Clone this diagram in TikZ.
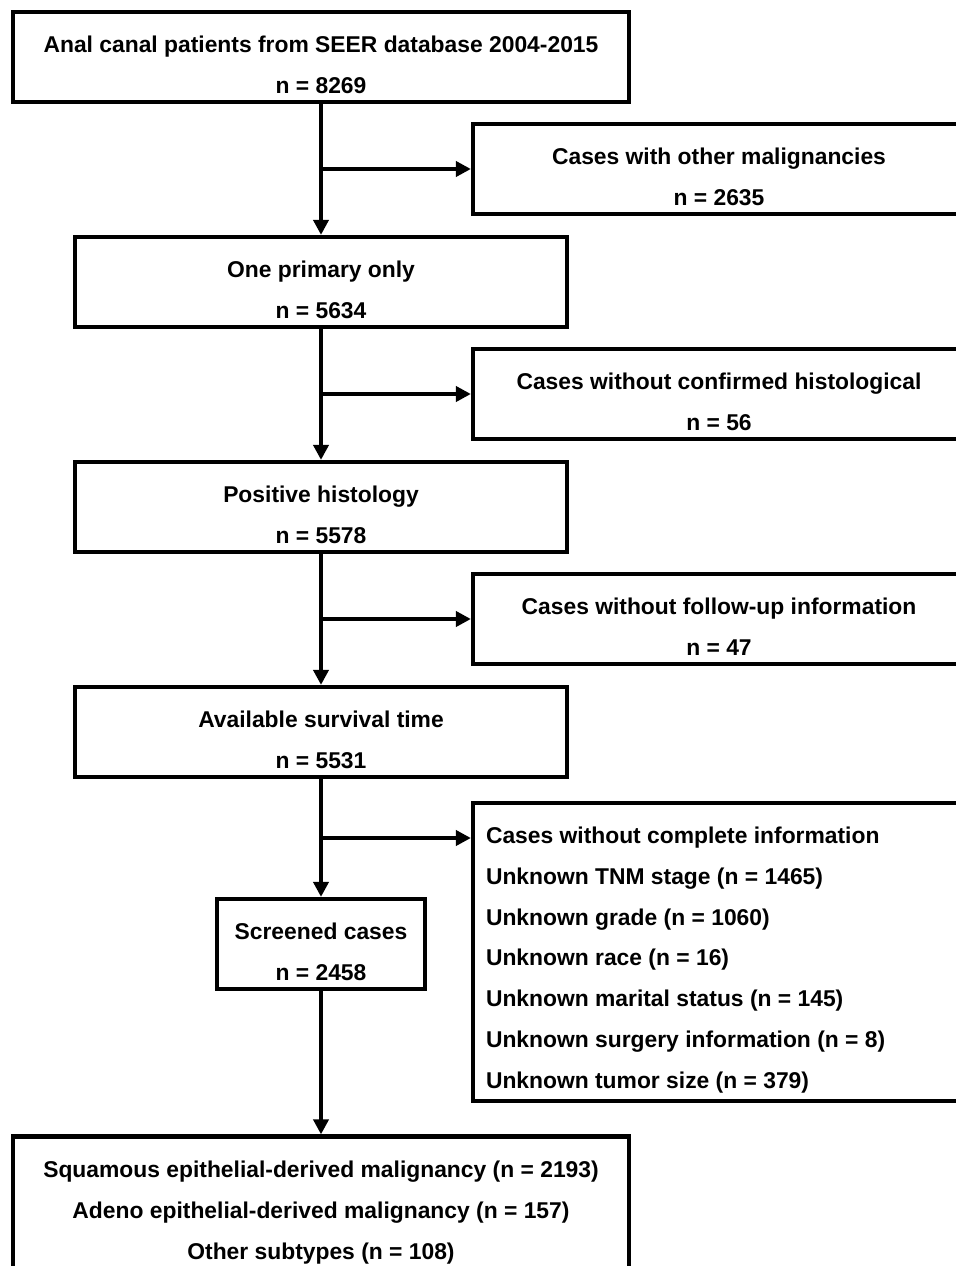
\documentclass[tikz,border=0pt]{standalone}
\usepackage{fontspec}
\setmainfont{Liberation Sans}
\usetikzlibrary{
    arrows.meta,
    calc,
    positioning
}
\tikzset{
    >={Triangle[length=8.5pt,width=8.5pt]},
    every node/.style={font=\fontsize{13}{23.2}\selectfont\bfseries},
    box/.style={draw, line width=2.4pt, minimum height=1.8cm, align=flush center, inner sep=0pt,
        execute at begin node={\rule{0pt}{18.5pt}}},
    widebox/.style={box, minimum width=12.32cm, text width=12cm},
    mainbox/.style={box, minimum width=9.84cm, text width=9.5cm},
    sidebox/.style={box, minimum width=9.84cm, text width=9.5cm},
    flow/.style={->, line width=2.4pt},
}

\begin{document}
\begin{tikzpicture}[node distance=4.5cm,on grid]
       \useasboundingbox (0,0) rectangle (19.12,-25.32);
       \clip (0,0) rectangle (19.12,-25.32);
       \node[widebox] (anal) at (6.42,-1.14) {Anal canal patients from SEER database 2004-2015\\n = 8269};
       \node[mainbox] (one) [below=of anal] {One primary only\\n = 5634};
       \node[mainbox] (hist) [below=of one] {Positive histology\\n = 5578};
       \node[mainbox] (avail) [below=of hist] {Available survival time\\n = 5531};
       \node[box, minimum width=4.16cm, text width=4cm] (screened) [below=4.24cm of avail] {Screened cases\\n = 2458};
       \node[widebox, minimum height=2.72cm] (subtypes) [below=5.21cm of screened] {Squamous epithelial-derived malignancy (n = 2193)\\Adeno epithelial-derived malignancy (n = 157)\\Other subtypes (n = 108)};
       \node[sidebox] (other) [below right=2.24cm and 7.96cm of anal] {Cases with other malignancies\\n = 2635};
       \node[sidebox] (nohist) [below right=2.24cm and 7.96cm of one] {Cases without confirmed histological\\n = 56};
       \node[sidebox] (nofollow) [below right=2.24cm and 7.96cm of hist] {Cases without follow-up information\\n = 47};
       \node[sidebox, minimum height=5.96cm, align=flush left, text width=9.32cm, inner xsep=0.26cm] (incomplete) [below right=4.4cm and 7.96cm of avail] {Cases without complete information\\Unknown TNM stage (n = 1465)\\Unknown grade (n = 1060)\\Unknown race (n = 16)\\Unknown marital status (n = 145)\\Unknown surgery information (n = 8)\\Unknown tumor size (n = 379)};
       % excluded at each step
       \coordinate (b4) at ($(avail.south)!0.5!(screened.north)$);
       \draw[flow] (anal) -- (one);
       \draw[flow] (one) -- (hist);
       \draw[flow] (hist) -- (avail);
       \draw[flow] (avail) -- (screened);
       \draw[flow] (screened) -- (subtypes);
       \draw[flow] (anal.south |- other.west) -- (other.west);
       \draw[flow] (one.south |- nohist.west) -- (nohist.west);
       \draw[flow] (hist.south |- nofollow.west) -- (nofollow.west);
       \draw[flow] (b4) -- (b4 -| incomplete.west);
      \end{tikzpicture}
\end{document}
